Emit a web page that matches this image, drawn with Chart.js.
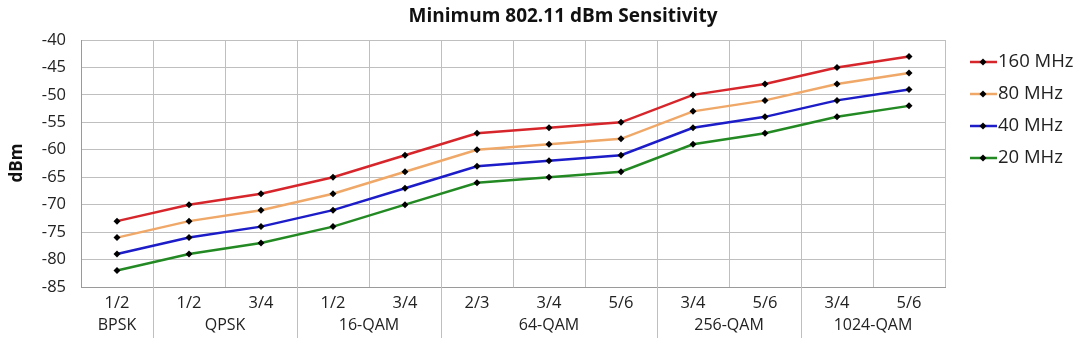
<!DOCTYPE html>
<html><head><meta charset="utf-8">
<script src="https://cdn.jsdelivr.net/npm/chart.js@4"></script>
<style>html,body{margin:0;padding:0;background:#fff}#wrap{width:1080px;height:360px}</style>
</head><body><div id="wrap"><canvas id="c" width="1080" height="360"></canvas></div>
<script>
const rates = ["1/2","1/2","3/4","1/2","3/4","2/3","3/4","5/6","3/4","5/6","3/4","5/6"];
const modulations = ["BPSK","QPSK","16-QAM","64-QAM","256-QAM","1024-QAM"];
const modulationSpans = [1,2,2,3,2,2];
const seriesNames = ["160 MHz","80 MHz","40 MHz","20 MHz"];
const mhz160 = [-73,-70,-68,-65,-61,-57,-56,-55,-50,-48,-45,-43];
const mhz80  = [-76,-73,-71,-68,-64,-60,-59,-58,-53,-51,-48,-46];
const mhz40  = [-79,-76,-74,-71,-67,-63,-62,-61,-56,-54,-51,-49];
const mhz20  = [-82,-79,-77,-74,-70,-66,-65,-64,-59,-57,-54,-52];
const yTicks = [-85,-80,-75,-70,-65,-60,-55,-50,-45,-40];
const colors = ["#d7262b","#f0a868","#1c1cc8","#238a23"];
const FONT = "'Open Sans', sans-serif";

const titlePlugin = {
  id:'customTitle',
  afterDraw(chart){
    const ctx = chart.ctx; ctx.save();
    ctx.font = "bold 19px " + FONT; ctx.fillStyle="#111";
    ctx.textAlign="center"; ctx.textBaseline="middle";
    ctx.fillText("Minimum 802.11 dBm Sensitivity", 563, 17);
    ctx.translate(17,163); ctx.rotate(-Math.PI/2);
    ctx.font = "bold 17px " + FONT;
    ctx.fillText("dBm",0,0);
    ctx.restore();
  }
};
const groupPlugin = {
  id:'groups',
  afterDraw(chart){
    const ctx = chart.ctx, area = chart.chartArea;
    const w = (area.right-area.left)/rates.length;
    ctx.save();
    ctx.font = "16px " + FONT; ctx.fillStyle="#222";
    ctx.textAlign="center"; ctx.textBaseline="middle";
    ctx.strokeStyle="#bfbfbf"; ctx.lineWidth=1;
    let start=0;
    modulations.forEach((m,i)=>{
      const end = start+modulationSpans[i];
      const x0 = area.left + start*w, x1 = area.left + end*w;
      ctx.fillText(m,(x0+x1)/2,325);
      if(i<modulations.length-1){
        const xx=Math.round(x1)+0.5;
        ctx.beginPath(); ctx.moveTo(xx,area.bottom); ctx.lineTo(xx,338); ctx.stroke();
      }
      start=end;
    });
    ctx.restore();
  }
};
const legendPlugin = {
  id:'customLegend',
  afterDraw(chart){
    const ctx=chart.ctx; ctx.save();
    const ys=[62,94,126,158];
    chart.data.datasets.forEach((ds,i)=>{
      const y=ys[i];
      ctx.strokeStyle=ds.borderColor; ctx.lineWidth=2.5;
      ctx.beginPath(); ctx.moveTo(970,y); ctx.lineTo(997,y); ctx.stroke();
      ctx.fillStyle="#000";
      ctx.beginPath(); ctx.moveTo(983,y-3.5); ctx.lineTo(986.5,y); ctx.lineTo(983,y+3.5); ctx.lineTo(979.5,y); ctx.closePath(); ctx.fill();
      ctx.font="18.5px "+FONT; ctx.fillStyle="#222"; ctx.textAlign="left"; ctx.textBaseline="middle";
      ctx.fillText(ds.label,998,y);
    });
    ctx.restore();
  }
};

const data = [mhz160,mhz80,mhz40,mhz20];
new Chart(document.getElementById('c'),{
  type:'line',
  data:{labels:rates,datasets:data.map((d,i)=>({
    label:seriesNames[i],data:d,borderColor:colors[i],backgroundColor:colors[i],
    borderWidth:2.5,tension:0,pointStyle:'rectRot',pointRadius:3.5,
    pointBackgroundColor:'#000',pointBorderColor:'#000',pointBorderWidth:0
  }))},
  options:{
    responsive:false,animation:false,
    layout:{padding:{top:40,right:135,left:0,bottom:0}},
    plugins:{legend:{display:false},title:{display:false},tooltip:{enabled:false}},
    scales:{
      x:{offset:true,
        grid:{offset:true,color:'#bfbfbf',drawTicks:false,lineWidth:1},
        border:{color:'#9a9a9a'},
        ticks:{font:{size:16.5,family:FONT},color:'#222',padding:6,maxRotation:0,autoSkip:false},
        afterFit(s){s.height=73;}
      },
      y:{min:-85,max:-40,
        afterBuildTicks(s){s.ticks=yTicks.map(v=>({value:v}));},
        grid:{color:'#bfbfbf',drawTicks:false,lineWidth:1},
        border:{color:'#9a9a9a'},
        ticks:{font:{size:16.5,family:FONT},color:'#222',padding:15},
        afterFit(s){s.width=81;}
      }
    }
  },
  plugins:[titlePlugin,groupPlugin,legendPlugin]
});
</script></body></html>
